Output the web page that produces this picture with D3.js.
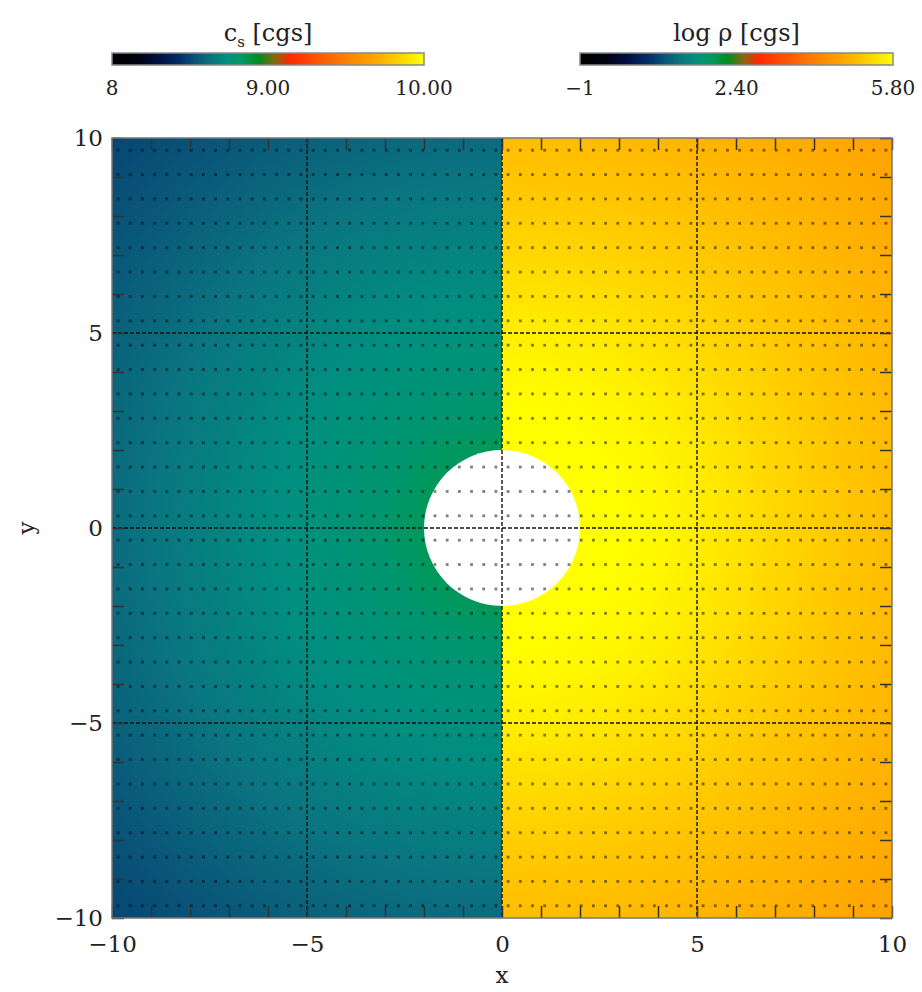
<!DOCTYPE html>
<html>
<head>
<meta charset="utf-8">
<script src="https://cdn.jsdelivr.net/npm/d3@7"></script>
<style>
  body { margin: 0; background: #fff; }
  text { font-family: "DejaVu Serif", "Liberation Serif", serif; fill: #222; }
</style>
</head>
<body>
<svg id="chart" width="922" height="992"></svg>
<script>
// colour table (position 0..1 -> colour)
const cmapPos   = [0.00, 0.08, 0.15, 0.22, 0.27, 0.32, 0.37, 0.42, 0.47, 0.52, 0.57, 0.65, 0.75, 0.85, 0.93, 1.00];
const cmapColor = ["#000000", "#00020f", "#001040", "#00306a", "#0a5578", "#0a7580", "#009080", "#009a60",
                   "#008a20", "#806a10", "#ff2800", "#ff5000", "#ff8000", "#ffaa00", "#ffd800", "#ffff00"];

// sound speed (left half), radial profile from the origin
const csRadius = [2.0, 3.0, 4.0, 5.0, 6.0, 7.0, 8.0, 9.0, 10.0, 12.0, 14.2];
const csValue  = [8.85, 8.80, 8.77, 8.75, 8.73, 8.70, 8.67, 8.64, 8.61, 8.55, 8.50];

// log density (right half), radial profile from the origin
const rhoRadius = [2.0, 3.0, 4.0, 5.0, 6.0, 7.0, 8.0, 9.0, 10.0, 12.0, 14.2];
const rhoValue  = [5.80, 5.79, 5.72, 5.60, 5.46, 5.33, 5.20, 5.10, 5.01, 4.84, 4.65];

// colour bars
const csBarTicks  = [8, 9, 10];
const csBarLabels = ["8", "9.00", "10.00"];
const rhoBarTicks  = [-1, 2.4, 5.8];
const rhoBarLabels = ["\u22121", "2.40", "5.80"];

// axes
const majorTicks = [-10, -5, 0, 5, 10];
const gridTicks  = [-5, 0, 5];
const minorTicks = d3.range(-10, 11, 1);
const starRadius = 2;
const dotCols = 64, dotRows = 32;

const svg = d3.select("#chart");
const defs = svg.append("defs");

const x = d3.scaleLinear([-10, 10], [112, 892]);
const y = d3.scaleLinear([-10, 10], [918, 138]);
const rPix = d => x(d) - x(0);

const cmap = d3.scaleLinear(cmapPos, cmapColor).clamp(true);
const csNorm = d3.scaleLinear([8, 10], [0, 1]);
const rhoNorm = d3.scaleLinear([-1, 5.8], [0, 1]);

// radial gradients for the two halves
function radialFill(id, radii, values, norm) {
    const rMax = d3.max(radii);
    const g = defs.append("radialGradient")
        .attr("id", id)
        .attr("gradientUnits", "userSpaceOnUse")
        .attr("cx", x(0)).attr("cy", y(0))
        .attr("r", rPix(rMax));
    g.selectAll("stop")
        .data(radii.map((r, i) => ({r, v: values[i]})))
        .join("stop")
        .attr("offset", d => d.r / rMax)
        .attr("stop-color", d => cmap(norm(d.v)));
    // inside the star keep the first colour
    g.insert("stop", ":first-child").attr("offset", 0).attr("stop-color", cmap(norm(values[0])));
}
radialFill("csFill", csRadius, csValue, csNorm);
radialFill("rhoFill", rhoRadius, rhoValue, rhoNorm);

const plot = svg.append("g");
plot.append("rect")
    .attr("x", x(-10)).attr("y", y(10))
    .attr("width", x(0) - x(-10)).attr("height", y(-10) - y(10))
    .attr("fill", "url(#csFill)");
plot.append("rect")
    .attr("x", x(0)).attr("y", y(10))
    .attr("width", x(10) - x(0)).attr("height", y(-10) - y(10))
    .attr("fill", "url(#rhoFill)");

// the star (excised region)
plot.append("circle")
    .attr("cx", x(0)).attr("cy", y(0))
    .attr("r", rPix(starRadius))
    .attr("fill", "#fff");

// grid point markers
const dots = [];
for (let i = 0; i < dotCols; i++) {
    for (let j = 0; j < dotRows; j++) {
        dots.push({px: -10 + (i + 0.5) * 20 / dotCols, py: -10 + (j + 0.5) * 20 / dotRows});
    }
}
plot.append("g").selectAll("rect")
    .data(dots)
    .join("rect")
    .attr("x", d => x(d.px) - 1.4)
    .attr("y", d => y(d.py) - 1.4)
    .attr("width", 2.8).attr("height", 2.8)
    .attr("fill", "#000")
    .attr("opacity", 0.5);

// dashed grid at major ticks
const grid = svg.append("g")
    .attr("stroke", "#111").attr("stroke-width", 1.4).attr("stroke-dasharray", "4,2");
grid.selectAll(".gv").data(gridTicks).join("line")
    .attr("x1", d => x(d)).attr("x2", d => x(d))
    .attr("y1", y(10)).attr("y2", y(-10));
grid.selectAll(".gh").data(gridTicks).join("line")
    .attr("y1", d => y(d)).attr("y2", d => y(d))
    .attr("x1", x(-10)).attr("x2", x(10));

// minor ticks on all four sides, pointing inward
const tickLen = 12;
function minor(axis, transform) {
    const g = svg.append("g").attr("transform", transform)
        .call(axis.tickValues(minorTicks).tickSize(-tickLen).tickFormat(""));
    g.select(".domain").remove();
    g.selectAll(".tick line").attr("stroke", "#333").attr("stroke-width", 1.5);
}
minor(d3.axisBottom(x), `translate(0,${y(-10)})`);
minor(d3.axisTop(x), `translate(0,${y(10)})`);
minor(d3.axisLeft(y), `translate(${x(-10)},0)`);
minor(d3.axisRight(y), `translate(${x(10)},0)`);

// frame
svg.append("rect")
    .attr("x", x(-10)).attr("y", y(10))
    .attr("width", x(10) - x(-10)).attr("height", y(-10) - y(10))
    .attr("fill", "none").attr("stroke", "#777").attr("stroke-width", 1.5);

// tick labels
const xl = svg.append("g").attr("transform", `translate(0,${y(-10)})`)
    .call(d3.axisBottom(x).tickValues(majorTicks).tickSize(0).tickPadding(18));
xl.select(".domain").remove();
xl.selectAll("text").attr("font-size", 23).attr("font-family", null).attr("fill", "#222");

const yl = svg.append("g").attr("transform", `translate(${x(-10)},0)`)
    .call(d3.axisLeft(y).tickValues(majorTicks).tickSize(0).tickPadding(9));
yl.select(".domain").remove();
yl.selectAll("text").attr("font-size", 23).attr("font-family", null).attr("fill", "#222");

svg.append("text").attr("x", x(0)).attr("y", 983)
    .attr("text-anchor", "middle").attr("font-size", 23).text("x");
svg.append("text").attr("transform", `translate(34,${y(0)}) rotate(-90)`)
    .attr("text-anchor", "middle").attr("font-size", 23).text("y");

// colour bars
const grad = defs.append("linearGradient").attr("id", "cbar");
grad.selectAll("stop").data(cmapPos).join("stop")
    .attr("offset", d => d)
    .attr("stop-color", (d, i) => cmapColor[i]);

function colourBar(x0, x1, domain, ticks, labels, title) {
    const s = d3.scaleLinear(domain, [x0, x1]);
    const g = svg.append("g");
    g.append("rect")
        .attr("x", x0).attr("y", 53).attr("width", x1 - x0).attr("height", 12)
        .attr("fill", "url(#cbar)").attr("stroke", "#888").attr("stroke-width", 1.5);
    g.selectAll(".lab").data(ticks).join("text")
        .attr("x", d => s(d)).attr("y", 95)
        .attr("text-anchor", "middle").attr("font-size", 20)
        .text((d, i) => labels[i]);
    title(g.append("text").attr("x", (x0 + x1) / 2).attr("y", 41)
        .attr("text-anchor", "middle").attr("font-size", 24));
}
colourBar(112, 424, [8, 10], csBarTicks, csBarLabels, t => {
    t.append("tspan").text("c");
    t.append("tspan").attr("font-size", 15).attr("dy", 6).text("s");
    t.append("tspan").attr("dy", -6).text(" [cgs]");
});
colourBar(580, 893, [-1, 5.8], rhoBarTicks, rhoBarLabels, t => {
    t.text("log \u03c1 [cgs]");
});
</script>
</body>
</html>
